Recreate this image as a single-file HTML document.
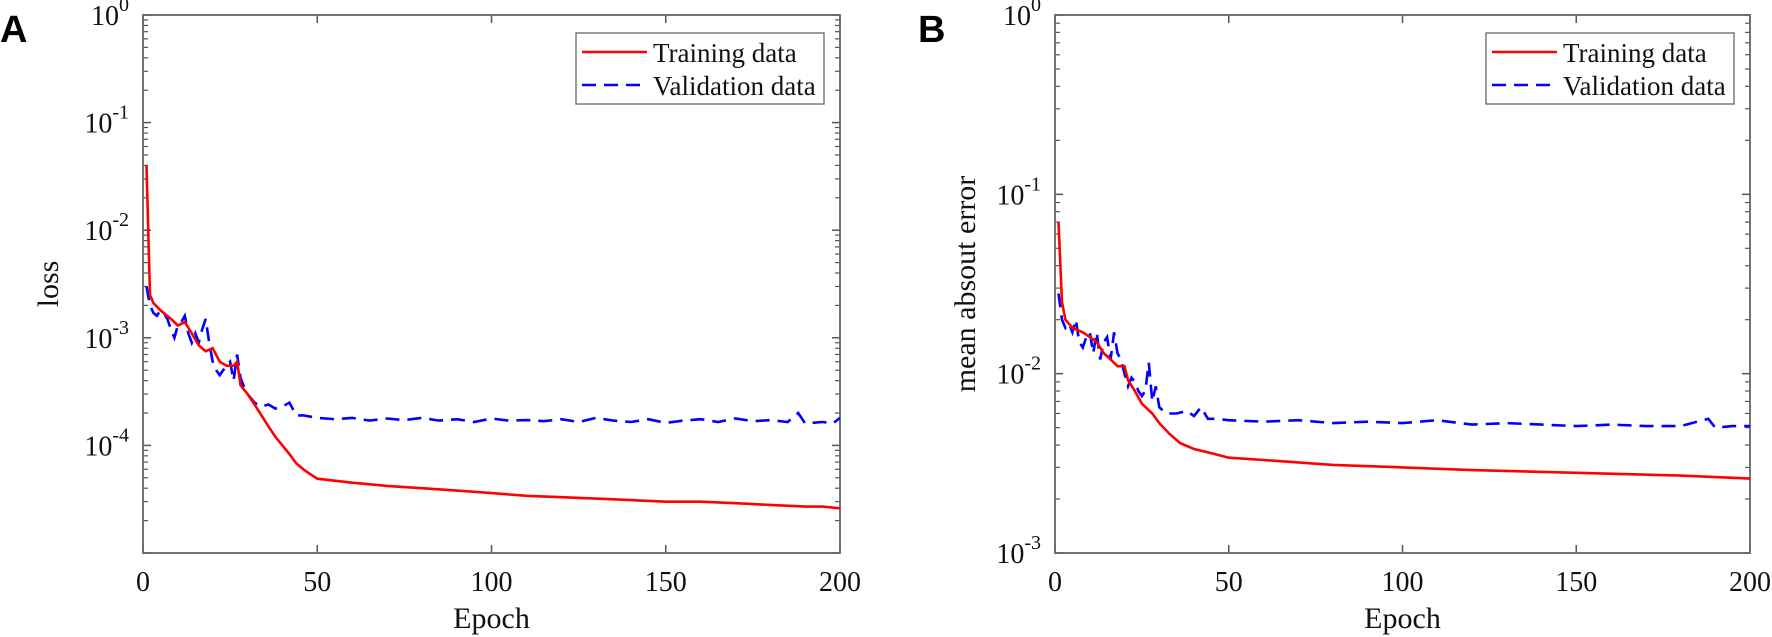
<!DOCTYPE html>
<html><head><meta charset="utf-8"><style>
body{margin:0;background:#fff}
svg{display:block;font-family:"Liberation Serif",serif}
</style></head><body>
<svg id="chart" width="1772" height="637" viewBox="0 0 1772 637" xmlns="http://www.w3.org/2000/svg">
<text x="0" y="42" font-family="Liberation Sans,sans-serif" font-weight="bold" font-size="38">A</text>
<text x="918" y="42" font-family="Liberation Sans,sans-serif" font-weight="bold" font-size="38">B</text>
</svg>
<script>
const xTicks=[0,50,100,150,200];
const aEpochTrain=[1,2,3,5,8,10,12,14,16,18,20,22,24,26,27,28,30,32,34,36,38,40,42,44,46,48,50,60,70,80,90,100,110,120,130,140,150,160,170,180,190,195,200];
const aTrain=[0.04,0.0025,0.0021,0.0018,0.0015,0.0013,0.0014,0.0011,0.00085,0.00075,0.0008,0.0006,0.00055,0.00055,0.0006,0.00036,0.0003,0.00024,0.00019,0.00015,0.00012,0.0001,0.000083,0.000068,0.00006,0.000054,0.000049,0.000045,0.000042,0.00004,0.000038,0.000036,0.000034,0.000033,0.000032,0.000031,0.00003,0.00003,0.000029,0.000028,0.000027,0.000027,0.000026];
const aEpochVal=[1,2,3,4,5,6,7,8,9,10,11,12,13,14,15,16,17,18,19,20,21,22,23,24,25,26,27,28,29,30,32,34,36,38,40,42,44,46,50,55,60,65,70,75,80,85,90,95,100,105,110,115,120,125,130,135,140,145,150,155,160,165,170,175,180,185,188,190,195,198,200];
const aVal=[0.003,0.002,0.0017,0.0016,0.0018,0.0017,0.0015,0.0012,0.001,0.0013,0.0014,0.0016,0.0011,0.0009,0.0011,0.0009,0.0012,0.0015,0.0009,0.0006,0.0005,0.00045,0.0005,0.00055,0.0006,0.0004,0.0007,0.00042,0.00035,0.0003,0.00025,0.00023,0.00024,0.00022,0.00023,0.00025,0.00019,0.00019,0.00018,0.000175,0.00018,0.00017,0.000178,0.000172,0.00018,0.00017,0.000175,0.000165,0.000178,0.00017,0.000172,0.000168,0.000175,0.000165,0.00018,0.00017,0.000165,0.000175,0.000162,0.00017,0.000175,0.000165,0.000178,0.000168,0.000172,0.000165,0.0002,0.00016,0.000165,0.00016,0.00018];
const bEpochTrain=[1,2,3,5,8,10,12,14,16,18,20,21,23,25,28,30,33,36,40,45,50,60,80,100,120,150,180,200];
const bTrain=[0.07,0.025,0.02,0.018,0.017,0.016,0.015,0.013,0.012,0.011,0.011,0.0092,0.008,0.0068,0.006,0.0053,0.0046,0.0041,0.0038,0.0036,0.0034,0.0033,0.0031,0.003,0.0029,0.0028,0.0027,0.0026];
const bEpochVal=[1,2,3,4,5,6,7,8,9,10,11,12,13,14,15,16,17,18,19,20,21,22,23,24,25,26,27,28,29,30,32,35,38,40,42,44,46,50,60,70,80,90,100,110,120,130,140,150,160,170,180,188,190,195,200];
const bVal=[0.028,0.02,0.018,0.019,0.017,0.02,0.015,0.014,0.016,0.017,0.013,0.017,0.012,0.015,0.016,0.012,0.017,0.013,0.012,0.01,0.0085,0.0095,0.009,0.008,0.0075,0.008,0.0115,0.007,0.0085,0.0065,0.006,0.006,0.0062,0.0058,0.0065,0.0056,0.0056,0.0055,0.0054,0.0055,0.0053,0.0054,0.0053,0.0055,0.0052,0.0053,0.0052,0.0051,0.0052,0.0051,0.0051,0.0056,0.005,0.0051,0.0051];

const NS="http://www.w3.org/2000/svg";
const svg=document.getElementById('chart');
function mk(tag,attrs,parent){const e=document.createElementNS(NS,tag);for(const k in attrs)e.setAttribute(k,attrs[k]);(parent||svg).appendChild(e);return e;}

function panel(p){
  const g=mk('g',{});
  
  
  const L=p.left,R=p.right,T=15,B=553;
  const sx=v=>L+(v-0)/200*(R-L);
  const sy=v=>T+(p.maxExp-Math.log10(v))/(p.maxExp-p.minExp)*(B-T);
  const tc='#555';
  for(const t of xTicks){
    const x=sx(t);
    mk('line',{x1:x,y1:B,x2:x,y2:B-8,stroke:tc,'stroke-width':1.5},g);
    mk('line',{x1:x,y1:T,x2:x,y2:T+8,stroke:tc,'stroke-width':1.5},g);
    const tl=mk('text',{x:x,y:591,'text-anchor':'middle','font-size':28,fill:'#111'},g);
    tl.textContent=t;
    
    
  }
  for(let e=p.minExp;e<=p.maxExp;e++){
    const y=sy(Math.pow(10,e));
    mk('line',{x1:L,y1:y,x2:L+8,y2:y,stroke:tc,'stroke-width':1.5},g);
    mk('line',{x1:R,y1:y,x2:R-8,y2:y,stroke:tc,'stroke-width':1.5},g);
    if(!(p.hideBottom && e===p.minExp)){
      const tl=mk('text',{x:L-14,y:y+10,'text-anchor':'end','font-size':28,fill:'#111'},g);
      
      
      tl.innerHTML='10<tspan dy="-14" font-size="20">'+e+'</tspan>';
    }
    if(e<p.maxExp){
      for(let m=2;m<=9;m++){
        const ym=sy(m*Math.pow(10,e));
        mk('line',{x1:L,y1:ym,x2:L+5,y2:ym,stroke:tc,'stroke-width':1.2},g);
        mk('line',{x1:R,y1:ym,x2:R-5,y2:ym,stroke:tc,'stroke-width':1.2},g);
      }
    }
  }
  const box=mk('rect',{x:L,y:T,width:R-L,height:B-T,fill:'none',stroke:'#666','stroke-width':1.8},g);
  
  
  const pathOf=(xs,ys)=>xs.map((x,i)=>(i?'L':'M')+sx(x).toFixed(1)+','+sy(ys[i]).toFixed(1)).join('');
  const v=mk('path',{d:pathOf(p.ev,p.v),fill:'none',stroke:'#0000ff','stroke-width':2.6,'stroke-dasharray':'14 8'},g);
  
  
  const t=mk('path',{d:pathOf(p.et,p.t),fill:'none',stroke:'#ff0000','stroke-width':2.6},g);
  
  
  const xt=mk('text',{x:(L+R)/2,y:628,'text-anchor':'middle','font-size':30,fill:'#111'},g);
  xt.textContent='Epoch';
  
  
  const yt=mk('text',{x:0,y:0,'text-anchor':'middle','font-size':30,fill:'#111',transform:'translate('+p.ytx+',284) rotate(-90)'},g);
  yt.textContent=p.ytitle;
  
  
  const lg=mk('g',{},g);
  
  
  const lx=R-16-248,ly=33;
  mk('rect',{x:lx,y:ly,width:248,height:71,fill:'#fff',stroke:'#666','stroke-width':1.3},lg);
  mk('line',{x1:lx+6,y1:ly+19,x2:lx+71,y2:ly+19,stroke:'#ff0000','stroke-width':2.6},lg);
  mk('line',{x1:lx+6,y1:ly+52,x2:lx+71,y2:ly+52,stroke:'#0000ff','stroke-width':2.6,'stroke-dasharray':'14 8'},lg);
  const e1=mk('text',{x:lx+77,y:ly+29,'font-size':27,fill:'#111'},lg);
  e1.textContent='Training data';
  
  
  const e2=mk('text',{x:lx+77,y:ly+62,'font-size':27,fill:'#111'},lg);
  e2.textContent='Validation data';
  
  
}
panel({name:'panel-a-loss',left:143,right:840,minExp:-5,maxExp:0,hideBottom:true,et:aEpochTrain,t:aTrain,ev:aEpochVal,v:aVal,ytitle:'loss',ytx:58});
panel({name:'panel-b-mae',left:1055,right:1750,minExp:-3,maxExp:0,hideBottom:false,et:bEpochTrain,t:bTrain,ev:bEpochVal,v:bVal,ytitle:'mean absout error',ytx:975});
</script>
</body></html>
